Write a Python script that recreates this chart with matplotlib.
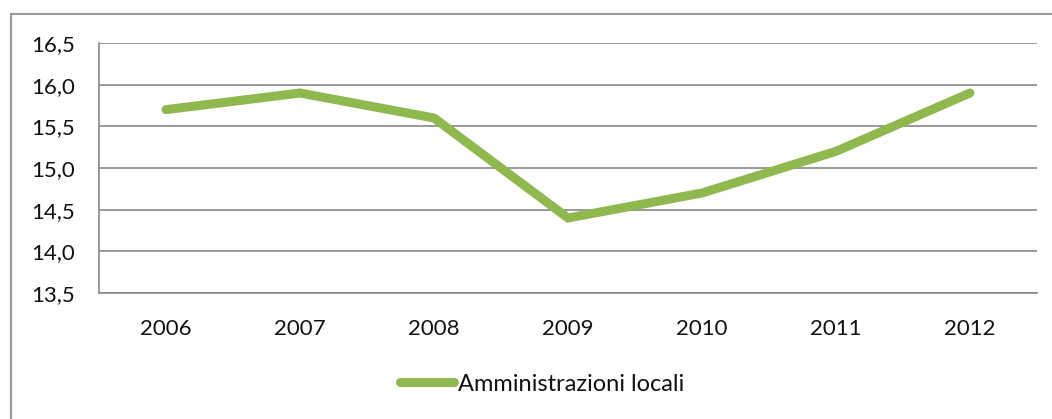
import matplotlib.pyplot as plt
from matplotlib.lines import Line2D

years = ['2006', '2007', '2008', '2009', '2010', '2011', '2012']
values = [15.7, 15.9, 15.6, 14.4, 14.7, 15.2, 15.9]
yticks = [13.5, 14.0, 14.5, 15.0, 15.5, 16.0, 16.5]
series_name = 'Amministrazioni locali'

plt.rcParams['font.family'] = ['Lato', 'DejaVu Sans']

fig = plt.figure(figsize=(10.52, 4.19), dpi=100)
ax = fig.add_axes([99/1052, 1 - 293/419, (1037 - 99)/1052, (293 - 43)/419])

# outer chart frame (top and left edges visible)
fig.add_artist(Line2D([11/1052, 1.0], [1 - 14/419, 1 - 14/419], color='#9a9a9a', lw=1.5))
fig.add_artist(Line2D([11/1052, 11/1052], [0.0, 1 - 14/419], color='#9a9a9a', lw=1.5))

x = range(len(years))
ax.plot(x, values, color='#8fb84e', lw=6.5, solid_capstyle='round', solid_joinstyle='miter',
        label=series_name)

ax.set_xlim(-0.5, len(years) - 0.5)
ax.set_ylim(13.5, 16.5)
ax.set_yticks(yticks)
ax.set_yticklabels([('%.1f' % v).replace('.', ',') for v in yticks])
ax.set_xticks(list(x))
ax.set_xticklabels(years)
ax.tick_params(axis='both', length=0, labelsize=16, colors='#111111')
ax.tick_params(axis='y', pad=17)
ax.tick_params(axis='x', pad=19)

ax.grid(axis='y', color='#888888', lw=1.2)
ax.set_axisbelow(True)
for s in ['top', 'right']:
    ax.spines[s].set_visible(False)
for s in ['left', 'bottom']:
    ax.spines[s].set_color('#888888')
    ax.spines[s].set_linewidth(1.2)

leg = fig.legend(loc='center', bbox_to_anchor=(542/1052, 1 - 384/419), frameon=False,
                 fontsize=17, handlelength=2.3, handletextpad=0.15)
for t in leg.get_texts():
    t.set_color('#111111')

fig.savefig('out.png', dpi=100)
